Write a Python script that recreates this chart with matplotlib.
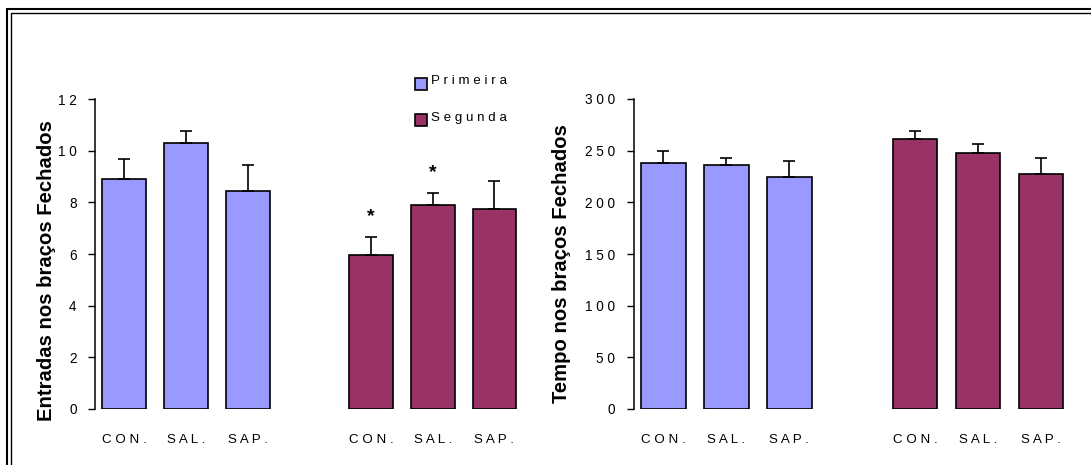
import matplotlib
matplotlib.use('Agg')
import matplotlib.pyplot as plt
from matplotlib.lines import Line2D
from matplotlib.patches import Rectangle
import numpy as np

plt.rcParams['font.family'] = ['Liberation Sans', 'DejaVu Sans']

W, H = 1091, 465

groups = ['CON.', 'SAL.', 'SAP.']
series = ['Primeira', 'Segunda']
colors = ['#9999ff', '#993366']

entradas_mean = [[8.9, 10.3, 8.43], [5.97, 7.88, 7.73]]
entradas_sem = [[0.77, 0.45, 1.02], [0.68, 0.48, 1.08]]
entradas_sig = [[False, False, False], [True, True, False]]
entradas_ticks = [0, 2, 4, 6, 8, 10, 12]

tempo_mean = [[238, 236.5, 224.5], [261.5, 248, 227]]
tempo_sem = [[12, 6, 15.5], [8, 8, 15.5]]
tempo_sig = [[False, False, False], [False, False, False]]
tempo_ticks = [0, 50, 100, 150, 200, 250, 300]


def px(x, y):
    return x / W, 1 - y / H


def spaced(s):
    # Excel-style letter spacing
    return ' '.join(s)


def draw_panel(ax, means, sems, sigs, ticks, ylabel, star_off, label_xy):
    pos = [[0, 1, 2], [4, 5, 6]]
    for k in range(2):
        ax.bar(pos[k], means[k], width=0.71, color=colors[k],
               edgecolor='black', linewidth=1.2, zorder=2)
        ax.errorbar(pos[k], means[k], yerr=[np.zeros(3), sems[k]], fmt='none',
                    ecolor='black', elinewidth=1.2, capsize=4, capthick=1.2, zorder=3)
        for p, m, s, sig in zip(pos[k], means[k], sems[k], sigs[k]):
            if sig:
                ax.text(p, m + s + star_off, '*', ha='center', va='center',
                        fontsize=14, fontweight='bold')
    ax.set_xlim(-0.47, 6.6)
    ax.set_ylim(ticks[0], ticks[-1])
    ax.set_yticks(ticks)
    ax.set_yticklabels([spaced(str(t)) for t in ticks], fontsize=9.8)
    ax.set_xticks(pos[0] + pos[1])
    ax.set_xticklabels([spaced(g) for g in groups * 2], fontsize=9.6)
    ax.tick_params(axis='x', length=0, pad=18)
    ax.tick_params(axis='y', length=5, width=1, pad=8.5, direction='out')
    for side in ['top', 'right', 'bottom']:
        ax.spines[side].set_visible(False)
    ax.spines['left'].set_linewidth(1.1)
    ax.set_ylabel(ylabel, fontsize=14.6, fontweight='bold')
    ax.yaxis.set_label_coords(*label_xy)


fig = plt.figure(figsize=(W / 100, H / 100), dpi=100)

ax1 = fig.add_axes([95.4 / W, 1 - 409 / H, 436 / W, 310 / H])
draw_panel(ax1, entradas_mean, entradas_sem, entradas_sig, entradas_ticks,
           'Entradas nos braços Fechados', 0.8, (-0.09, 0.445))

ax2 = fig.add_axes([633.8 / W, 1 - 409 / H, 445 / W, 310 / H])
draw_panel(ax2, tempo_mean, tempo_sem, tempo_sig, tempo_ticks,
           'Tempo nos braços Fechados', 20, (-0.142, 0.468))

# legend: small boxes, labels sit a little higher than the boxes
legend_top = [78, 114]
for name, c, top in zip(series, colors, legend_top):
    x0, y0 = px(415, top + 12)
    fig.patches.append(Rectangle((x0, y0), 12 / W, 12 / H, facecolor=c,
                                 edgecolor='black', linewidth=1.2,
                                 transform=fig.transFigure, figure=fig))
    tx, ty = px(431, top + 6.5)
    fig.text(tx, ty, spaced(name), fontsize=9.6, ha='left', va='baseline')

# double frame around the whole figure
for off, lw in [(0, 1.5), (4, 1.0)]:
    xs = [7 + off, 7 + off, W + 5]
    ys = [H + 5, 9 + off, 9 + off]
    fx = [x / W for x in xs]
    fy = [1 - y / H for y in ys]
    fig.lines.append(Line2D(fx, fy, color='black', linewidth=lw,
                            transform=fig.transFigure, figure=fig,
                            solid_joinstyle='miter'))

fig.savefig('out.png', dpi=100)
